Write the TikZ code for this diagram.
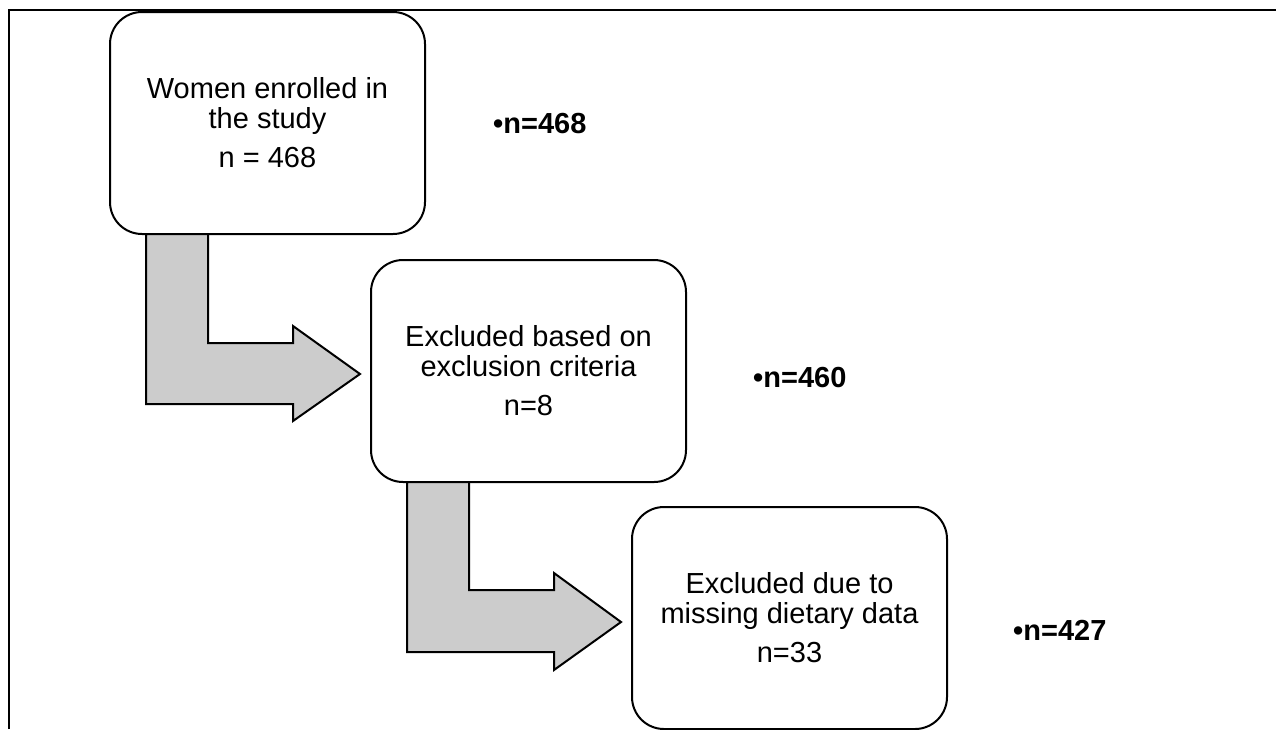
\documentclass[tikz,border=0pt]{standalone}
\usepackage{fontspec}
\setmainfont{Liberation Sans}
\usetikzlibrary{calc}
\definecolor{arrowgray}{HTML}{CCCCCC}
\begin{document}
\begin{tikzpicture}[x=1pt,y=-1pt,
  box/.style={draw=black, fill=white, line width=2pt, rounded corners=32pt,
    minimum width=315pt, minimum height=222pt, inner sep=0pt, outer sep=0pt,
    align=center, font=\fontsize{29}{30}\selectfont},
  blockarrow/.style={draw=black, line width=2pt, fill=arrowgray, line join=miter},
  count/.style={anchor=base west, inner sep=0pt, font=\bfseries\fontsize{29}{30}\selectfont}]
\useasboundingbox (0,0) rectangle (1276,729);
\draw[line width=2pt] (8.5,729) -- (8.5,9.5) -- (1276,9.5);
\node[box] (b1) at (267.5,123) {Women enrolled in\\the study\\[9pt]n = 468};
\node[box] (b2) at (528.5,371) {Excluded based on\\exclusion criteria\\[9pt]n=8};
\node[box] (b3) at (789.5,618) {Excluded due to\\missing dietary data\\[9pt]n=33};
\draw[blockarrow] ($(b1.south west)+(36,0)$) -- ++(62,0) -- ++(0,109) -- ++(85,0)
  -- ++(0,-17) -- ++(67,48) -- ++(-67,47) -- ++(0,-17) -- ++(-147,0) -- cycle;
\draw[blockarrow] ($(b2.south west)+(36,0)$) -- ++(62,0) -- ++(0,108) -- ++(85,0)
  -- ++(0,-17) -- ++(67,49) -- ++(-67,48) -- ++(0,-18) -- ++(-147,0) -- cycle;
\node[count] (c1) at (493,133) {•n=468};
\node[count] (c2) at (753,387) {•n=460};
\node[count] (c3) at (1013,640) {•n=427};
\end{tikzpicture}
\end{document}
